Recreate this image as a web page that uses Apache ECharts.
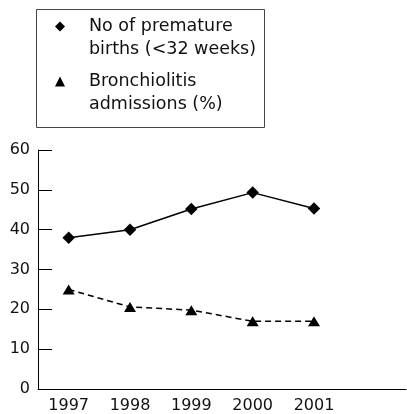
<!DOCTYPE html>
<html>
<head>
<meta charset="utf-8">
<script src="https://cdn.jsdelivr.net/npm/echarts@6/dist/echarts.min.js"></script>
<style>html,body{margin:0;padding:0;background:#fff}#c{width:407px;height:414px}</style>
</head>
<body>
<div id="c"></div>
<script>
const years = ['1997', '1998', '1999', '2000', '2001', ''];
const prematureBirths = [38, 40, 45.2, 49.3, 45.3];
const bronchiolitis = [25, 20.6, 19.8, 17, 17];
const yTicks = { min: 0, max: 60, interval: 10 };
const seriesNames = ['No of premature\nbirths (<32 weeks)', 'Bronchiolitis\nadmissions (%)'];

const FONT = 'DejaVu Sans';
const chart = echarts.init(document.getElementById('c'), null, { renderer: 'canvas' });
chart.setOption({
  animation: false,
  backgroundColor: '#fff',
  graphic: [{
    type: 'rect',
    shape: { x: 36.5, y: 9.5, width: 228, height: 118 },
    style: { fill: 'none', stroke: '#444', lineWidth: 1 }
  }],
  legend: {
    orient: 'vertical',
    left: 55,
    top: -8,
    padding: 0,
    itemGap: -14,
    itemWidth: 10,
    itemHeight: 10,
    selectedMode: false,
    data: [
      { name: seriesNames[0], icon: 'diamond' },
      { name: seriesNames[1], icon: 'triangle' }
    ],
    itemStyle: { color: '#000' },
    formatter: function (name) {
      return name.split('\n').map(function (s) { return '{a|' + s + '}'; }).join('\n');
    },
    textStyle: {
      fontFamily: FONT, fontSize: 17.5, color: '#111', lineHeight: 23,
      padding: [23, 0, 0, 19],
      rich: { a: { fontFamily: FONT, fontSize: 17.5, color: '#111', lineHeight: 23 } }
    }
  },
  grid: { left: 38, right: 1, top: 150, bottom: 23, containLabel: false },
  xAxis: {
    type: 'category',
    data: years,
    boundaryGap: true,
    axisLine: { lineStyle: { color: '#000', width: 1 } },
    axisTick: { inside: true, length: 14, alignWithLabel: false, lineStyle: { color: '#000' } },
    axisLabel: { fontFamily: FONT, fontSize: 16, color: '#111', margin: 9, interval: 0 },
    splitLine: { show: false }
  },
  yAxis: {
    type: 'value',
    min: yTicks.min, max: yTicks.max, interval: yTicks.interval,
    axisLine: { show: true, lineStyle: { color: '#000', width: 1 } },
    axisTick: { show: true, inside: true, length: 14, lineStyle: { color: '#000' } },
    axisLabel: { fontFamily: FONT, fontSize: 16, color: '#111', margin: 8 },
    splitLine: { show: false }
  },
  series: [
    {
      name: seriesNames[0], type: 'line', data: prematureBirths,
      symbol: 'diamond', symbolSize: 12.5,
      lineStyle: { color: '#000', width: 1.5 },
      itemStyle: { color: '#000' }
    },
    {
      name: seriesNames[1], type: 'line', data: bronchiolitis,
      symbol: 'triangle', symbolSize: [12, 10],
      lineStyle: { color: '#000', width: 1.5, type: [6, 4] },
      itemStyle: { color: '#000' }
    }
  ]
});
</script>
</body>
</html>
